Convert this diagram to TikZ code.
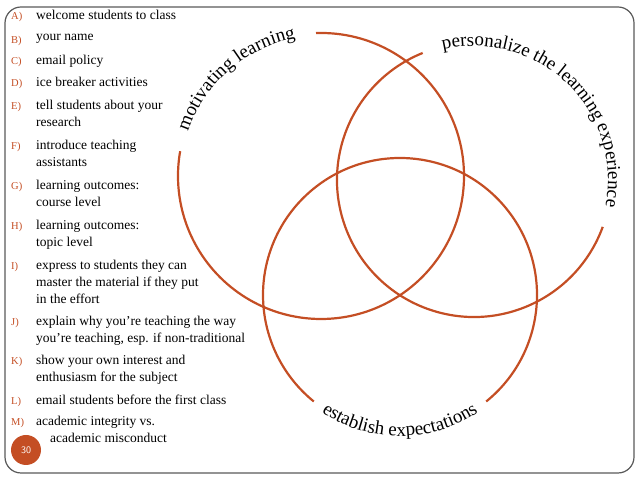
\documentclass[tikz,border=0pt]{standalone}
\usepackage{fontspec}
\setmainfont{Liberation Serif}
\usetikzlibrary{decorations.text}
\definecolor{rust}{RGB}{196,78,36}
\begin{document}
\begin{tikzpicture}[x=1pt, y=1pt,
  ring/.style = {draw=rust, line width=2.2pt},
  item/.style = {anchor=north west, inner sep=0pt, align=left, font=\fontsize{13.5}{17}\selectfont},
  tag/.style = {anchor=north west, inner sep=0pt, text=rust, font=\fontsize{10.5}{11}\selectfont},
  arctext/.style = {decorate, decoration={text along path, text align=center,
      text={|\fontsize{19}{19}\selectfont|#1}}}]
\useasboundingbox (0,0) rectangle (638,479);
\draw[gray!70!black, line width=1.2pt, rounded corners=16pt] (5,6) rectangle (634,472);
% three rings
\draw[ring] (321,303) ++(92:143) arc[start angle=92, end angle=-190, radius=143];
\draw[ring] (474,299) ++(112:137) arc[start angle=112, end angle=340, radius=137];
\draw[ring] (400,184) ++(309:137) arc[start angle=309, end angle=591, radius=137];
% labels on the rings
\path[arctext={motivating learning}] (321,303) ++(172:140) arc[start angle=172, end angle=90, radius=140];
\path[arctext={personalize the learning experience}] (474,299) ++(114:134) arc[start angle=114, end angle=-22, radius=134];
\path[arctext={establish expectations}] (400,184) ++(229:141) arc[start angle=229, end angle=311, radius=141];
% list
\foreach \t/\y/\s in {A)/17/{welcome students to class}, B)/41/{your name}, C)/62/{email policy},
    D)/84/{ice breaker activities}, E)/107/{tell students about your\\research},
    F)/147/{introduce teaching\\assistants}, G)/187/{learning outcomes:\\course level},
    H)/227/{learning outcomes:\\topic level},
    I)/267/{express to students they can\\master the material if they put\\in the effort},
    J)/323/{explain why you’re teaching the way\\you’re teaching, esp. if non-traditional},
    K)/362/{show your own interest and\\enthusiasm for the subject},
    L)/402/{email students before the first class}} {
  \node[tag] (t\t) at (11,479-\y+5) {\t};
  \node[item] (s\t) at (36,479-\y+7) {\s};
}
\node[tag] (tM) at (11,479-423+5) {M)};
\node[item] (sM) at (36,479-423+7) {academic integrity vs.\\\hspace*{14pt}academic misconduct};
\node[circle, fill=rust, minimum size=30pt, inner sep=0pt, text=white,
  font=\sffamily\fontsize{10}{10}\selectfont] (page) at (26,29) {30};
\end{tikzpicture}
\end{document}
